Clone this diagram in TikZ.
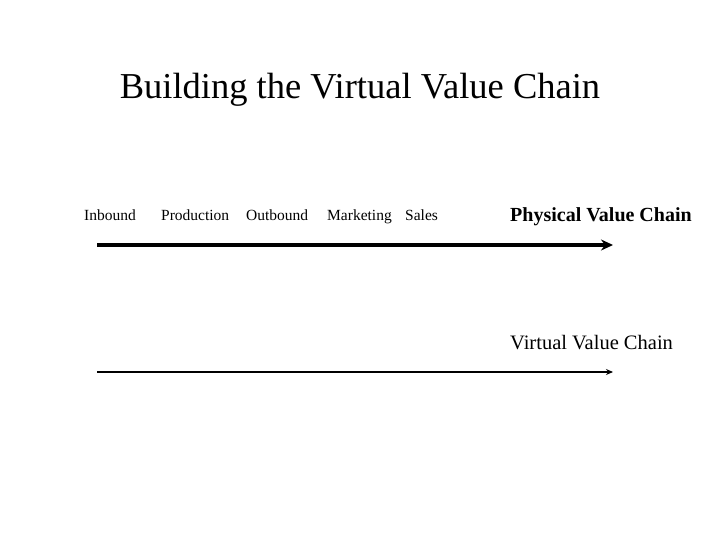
\documentclass[tikz,border=0pt]{standalone}
\usepackage{fontspec}
\setmainfont{Liberation Serif}
\usetikzlibrary{arrows.meta}
\begin{document}
\begin{tikzpicture}[x=1pt,y=-1pt,
  lbl/.style={anchor=base west,inner sep=0,font=\fontsize{15.5}{18}\selectfont},
  big/.style={anchor=base west,inner sep=0}]
\useasboundingbox (0,0) rectangle (720,540);
\node[font=\fontsize{36.5}{42}\selectfont] (title) at (360,90) {Building the Virtual Value Chain};
\node[lbl] (in) at (84,221) {Inbound};
\node[lbl] (pr) at (161,221) {Production};
\node[lbl] (ou) at (246,221) {Outbound};
\node[lbl] (ma) at (327,221) {Marketing};
\node[lbl] (sa) at (405,221) {Sales};
\node[big,font=\fontsize{20}{24}\selectfont\bfseries] (pvc) at (510,222) {Physical Value Chain};
\node[big,font=\fontsize{20.5}{24}\selectfont] (vvc) at (510,349) {Virtual Value Chain};
\coordinate (a1) at (97,245); \coordinate (b1) at (613,245);
\coordinate (a2) at (97,372); \coordinate (b2) at (613,372);
\draw[line width=3.5pt,-{Stealth[length=12pt,width=11pt]}] (a1) -- (b1);
\draw[line width=1.3pt,-{Stealth[length=7pt,width=6pt]}] (a2) -- (b2);
\end{tikzpicture}
\end{document}
